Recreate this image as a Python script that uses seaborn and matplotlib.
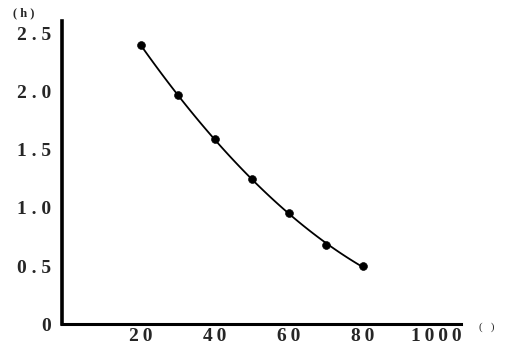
import matplotlib
matplotlib.use("Agg")
import matplotlib.pyplot as plt
import seaborn as sns
import pandas as pd

# values
temperature = [20, 30, 40, 50, 60, 70, 80]
hours = [2.40, 1.97, 1.59, 1.25, 0.96, 0.68, 0.50]

x_ticks = [20, 40, 60, 80, 100]
x_tick_labels = ["2\u20090", "4\u20090", "6\u20090", "8\u20090", "1\u20090\u20090\u20090"]
y_ticks = [0, 0.5, 1.0, 1.5, 2.0, 2.5]
y_tick_labels = ["0", "0 . 5", "1 . 0", "1 . 5", "2 . 0", "2 . 5"]

df = pd.DataFrame({"temperature": temperature, "hours": hours})

sns.set_style("white")
plt.rcParams["font.family"] = ["Liberation Serif", "DejaVu Serif"]

fig = plt.figure(figsize=(5.12, 3.5), dpi=100)
ax = fig.add_axes([0.121, 0.074, 0.779, 0.866])

# fitted curve and measured points
sns.regplot(data=df, x="temperature", y="hours", order=2, ci=None,
            scatter=False, truncate=True, ax=ax,
            line_kws={"color": "black", "linewidth": 1.3})
sns.scatterplot(data=df, x="temperature", y="hours", ax=ax,
                color="black", s=32, edgecolor="black", zorder=3)

ax.set_xlim(-1.35, 106.5)
ax.set_ylim(0, 2.61)
ax.set_xticks(x_ticks)
ax.set_xticklabels(x_tick_labels, fontsize=14, fontweight="bold")
ax.set_yticks(y_ticks)
ax.set_yticklabels(y_tick_labels, fontsize=14, fontweight="bold")
ax.tick_params(direction="in", length=3, width=0.8)
ax.tick_params(axis="x", pad=3)
ax.tick_params(axis="y", pad=8)
ax.set_xlabel("")
ax.set_ylabel("")

sns.despine(ax=ax)
ax.spines["left"].set_linewidth(2.6)
ax.spines["bottom"].set_linewidth(2.2)
ax.spines["left"].set_color("black")
ax.spines["bottom"].set_color("black")

# unit labels
fig.text(0.025, 0.962, "( h )", fontsize=9, fontweight="bold", ha="left", va="center")
fig.text(0.935, 0.066, "(   )", fontsize=8, ha="left", va="center")

fig.savefig("out.png", dpi=100)
